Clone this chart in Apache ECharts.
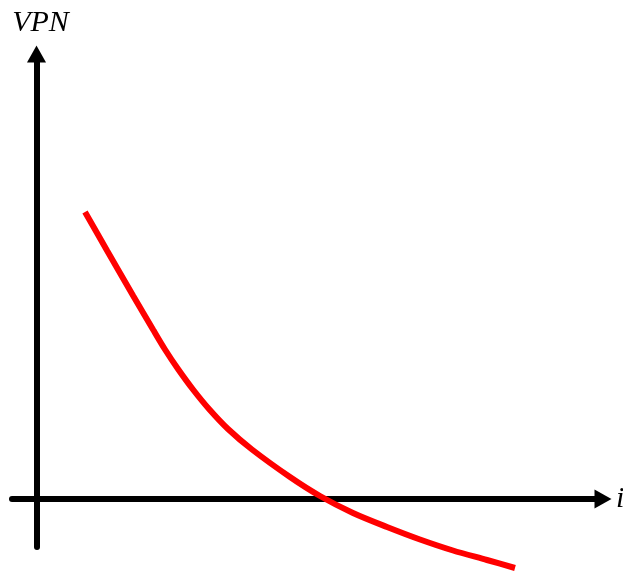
<!DOCTYPE html>
<html>
<head>
<meta charset="utf-8">
<title>VPN</title>
<script src="https://cdn.jsdelivr.net/npm/echarts@6/dist/echarts.min.js"></script>
<style>
  html, body { margin: 0; padding: 0; background: #fff; }
  #chart { width: 623px; height: 572px; }
</style>
</head>
<body>
<div id="chart"></div>
<script>
let rates = [48.5, 70.5, 96.5, 116.5, 128.5, 141.5, 156.5, 172.5, 191.5, 215.5, 253.5, 283.5, 316.5, 350.5, 383.5, 416.5, 450.5, 478.5]
let npv = [287, 248.5, 203.5, 169.5, 149.5, 130, 109.5, 90, 70, 49.5, 22, 3, -14, -28, -40.5, -51.5, -61, -69]

let xName = 'i'
let yName = 'VPN'

let serif = '"Liberation Serif", "DejaVu Serif", serif'

let chart = echarts.init(document.getElementById('chart'))

let axisLine = {
  onZero: true,
  symbol: ['none', 'triangle'],
  symbolSize: [19, 17],
  lineStyle: {color: '#000', width: 6}
}

chart.setOption({
  animation: false,
  grid: {left: 12, right: 20, top: 54, bottom: 25, outerBoundsMode: 'none', containLabel: false},
  xAxis: {
    type: 'value',
    min: -24.5,
    max: 566.5,
    name: xName,
    nameLocation: 'end',
    nameGap: 13,
    nameTextStyle: {fontFamily: serif, fontStyle: 'italic', fontSize: 30, color: '#000'},
    axisLine: axisLine,
    axisTick: {show: false},
    axisLabel: {show: false},
    splitLine: {show: false}
  },
  yAxis: {
    type: 'value',
    min: -48,
    max: 445,
    name: yName,
    nameLocation: 'end',
    nameGap: 16,
    nameTextStyle: {
      fontFamily: serif,
      fontStyle: 'italic',
      fontSize: 30,
      color: '#000',
      padding: [0, 0, 0, 8]
    },
    axisLine: axisLine,
    axisTick: {show: false},
    axisLabel: {show: false},
    splitLine: {show: false}
  },
  series: [{
    type: 'line',
    data: rates.map((r, k) => [r, npv[k]]),
    smooth: 0.3,
    clip: false,
    symbol: 'none',
    lineStyle: {color: '#ff0000', width: 6},
    z: 1
  }]
})
</script>
</body>
</html>
